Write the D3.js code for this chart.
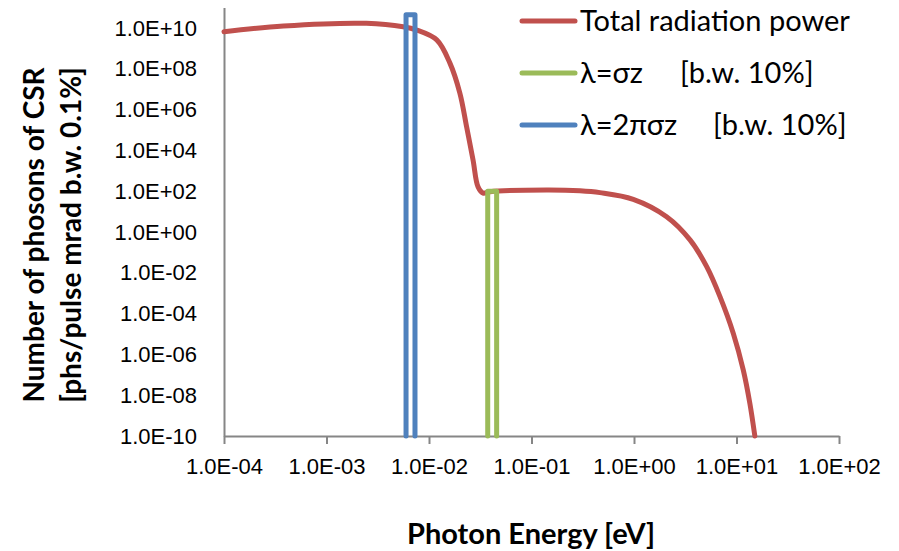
<!DOCTYPE html>
<html>
<head>
<meta charset="utf-8">
<script src="https://cdn.jsdelivr.net/npm/d3@7"></script>
<style>
  body { margin: 0; background: #fff; }
  svg { display: block; font-family: Lato, 'Open Sans', sans-serif; }
</style>
</head>
<body>
<svg id="chart" width="899" height="551"></svg>
<script>
// Total radiation power (photon energy in eV, photons)
const totalEnergy = [1.0e-4, 3.8e-4, 2.45e-3, 5.6e-3, 7.6e-3, 0.0119, 0.0160, 0.0200,
  0.0233, 0.0269, 0.0301, 0.0337, 0.0394, 0.141, 0.297, 0.466, 0.984, 2.08, 3.52, 5.12,
  6.90, 9.31, 11.65, 13.5, 15.1];
const totalPhotons = [6.6e9, 1.26e10, 1.7e10, 1.15e10, 7.9e9, 2.6e9, 1.9e8, 6.5e6,
  1.4e5, 3.4e3, 162, 81, 95, 115, 105, 85, 40, 5.6, 0.41, 0.020,
  6.8e-4, 1.07e-5, 1.7e-7, 4.0e-9, 1e-10];

// λ=σz band
const sigmaEnergy = [0.0374, 0.0374, 0.0457, 0.0457];
const sigmaPhotons = [1e-10, 100, 100, 1e-10];

// λ=2πσz band
const twoPiEnergy = [5.97e-3, 5.97e-3, 7.3e-3, 7.3e-3];
const twoPiPhotons = [1e-10, 4.5e10, 4.5e10, 1e-10];

const xTicks = [1e-4, 1e-3, 1e-2, 1e-1, 1e0, 1e1, 1e2];
const yTicks = [1e-10, 1e-8, 1e-6, 1e-4, 1e-2, 1e0, 1e2, 1e4, 1e6, 1e8, 1e10];

const seriesNames = ['Total radiation power', 'λ=σz', 'λ=2πσz'];
const seriesNotes = ['', '[b.w. 10%]', '[b.w. 10%]'];
const seriesColors = ['#C0504D', '#9BBB59', '#4F81BD'];

const margin = { left: 224, right: 60, top: 7.6, bottom: 115 };

const svg = d3.select('#chart');

const x = d3.scaleLog()
  .domain([1e-4, 1e2])
  .range([margin.left, 839]);

const y = d3.scaleLog()
  .domain([1e-10, 1e11])
  .range([436, margin.top]);

const fmtExp = v => {
  const e = Math.round(Math.log10(v));
  return '1.0E' + (e < 0 ? '-' : '+') + String(Math.abs(e)).padStart(2, '0');
};

// X axis
svg.append('g')
  .attr('transform', `translate(0, ${y(1e-10)})`)
  .call(d3.axisBottom(x).tickValues(xTicks).tickFormat(fmtExp).tickSizeInner(8).tickSizeOuter(0))
  .call(g => g.select('.domain').attr('stroke', '#868686').attr('stroke-width', 2))
  .call(g => g.selectAll('.tick line').attr('stroke', '#868686').attr('stroke-width', 2))
  .selectAll('text')
  .attr('y', 22)
  .attr('dy', '0.71em')
  .style('font-size', '22px')
  .style('fill', '#000');

// Y axis
svg.append('g')
  .attr('transform', `translate(${margin.left}, 0)`)
  .call(d3.axisLeft(y).tickValues(yTicks).tickFormat(fmtExp).tickSize(0))
  .call(g => g.select('.domain').attr('stroke', '#868686').attr('stroke-width', 2))
  .selectAll('text')
  .attr('x', -27)
  .style('font-size', '22px')
  .style('fill', '#000');

// Axis titles
svg.append('text')
  .attr('x', 531)
  .attr('y', 544)
  .attr('text-anchor', 'middle')
  .style('font-size', '29px')
  .style('font-weight', 'bold')
  .text('Photon Energy [eV]');

const yTitle = svg.append('g')
  .attr('transform', 'translate(0, 235) rotate(-90)');
yTitle.append('text')
  .attr('x', 0).attr('y', 44)
  .attr('text-anchor', 'middle')
  .style('font-size', '28px')
  .style('font-weight', 'bold')
  .text('Number of phosons of CSR');
yTitle.append('text')
  .attr('x', 0).attr('y', 81)
  .attr('text-anchor', 'middle')
  .style('font-size', '28px')
  .style('font-weight', 'bold')
  .text('[phs/pulse mrad b.w. 0.1%]');

// Series
const line = d3.line()
  .x(d => x(d[0]))
  .y(d => y(d[1]));

const smooth = d3.line()
  .x(d => x(d[0]))
  .y(d => y(d[1]))
  .curve(d3.curveCatmullRom.alpha(0.5));

const series = [
  { pts: d3.zip(totalEnergy, totalPhotons), gen: smooth },
  { pts: d3.zip(sigmaEnergy, sigmaPhotons), gen: line },
  { pts: d3.zip(twoPiEnergy, twoPiPhotons), gen: line }
];

series.forEach((s, i) => {
  svg.append('path')
    .attr('d', s.gen(s.pts))
    .attr('fill', 'none')
    .attr('stroke', seriesColors[i])
    .attr('stroke-width', 5)
    .attr('stroke-linejoin', 'round')
    .attr('stroke-linecap', 'round');
});

// Legend
const legend = svg.append('g').attr('transform', 'translate(522, 21)');
seriesNames.forEach((name, i) => {
  const row = legend.append('g').attr('transform', `translate(0, ${i * 52})`);
  row.append('line')
    .attr('x1', 0).attr('x2', 53)
    .attr('stroke', seriesColors[i])
    .attr('stroke-width', 5)
    .attr('stroke-linecap', 'round');
  row.append('text')
    .attr('x', 58)
    .attr('dy', '0.35em')
    .style('font-size', '29px')
    .text(name);
  if (seriesNotes[i]) {
    row.append('text')
      .attr('x', i === 1 ? 158 : 191)
      .attr('dy', '0.35em')
      .style('font-size', '29px')
      .text(seriesNotes[i]);
  }
});
</script>
</body>
</html>
